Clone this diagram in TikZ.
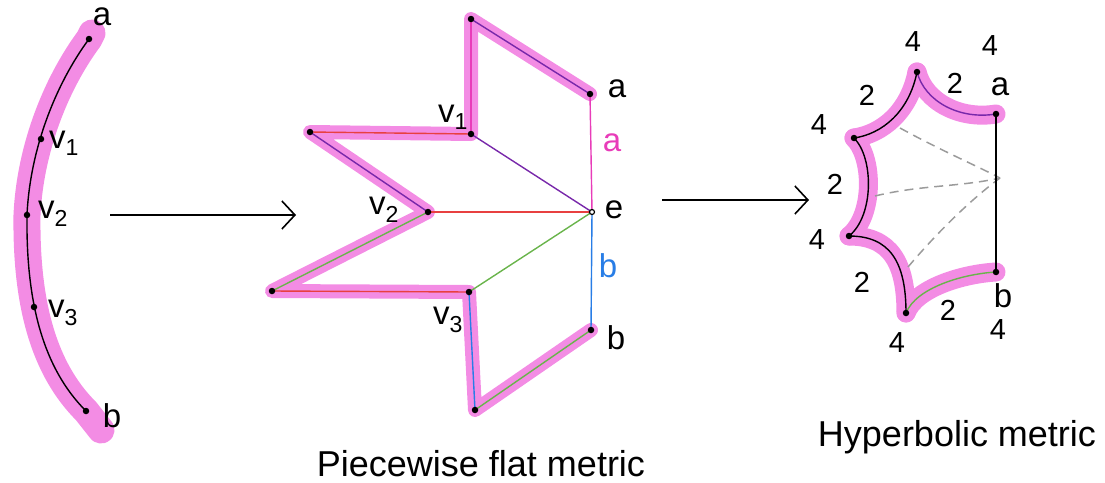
\documentclass[tikz,border=0pt]{standalone}
\usepackage{fontspec}
\setmainfont{Liberation Sans}
\usetikzlibrary{arrows.meta}
\definecolor{hlpink}{RGB}{243,140,228}
\definecolor{cred}{RGB}{232,64,64}
\definecolor{cpurple}{RGB}{120,40,170}
\definecolor{cgreen}{RGB}{105,180,75}
\definecolor{cblue}{RGB}{40,125,230}
\definecolor{cmag}{RGB}{232,60,185}
\definecolor{cgray}{RGB}{155,155,155}
\begin{document}
\begin{tikzpicture}[x=1pt,y=-1pt,
  hl/.style={draw=hlpink, line width=14, line cap=round, line join=round},
  ink/.style={line width=1.4},
  lbl/.style={font=\fontsize{33}{33}\selectfont, inner sep=0},
  num/.style={font=\fontsize{29}{29}\selectfont, inner sep=0},
  capt/.style={font=\fontsize{36}{36}\selectfont, inner sep=0},
  pt/.style={circle, fill=black, inner sep=0, minimum size=6.5},
  mapto/.style={line width=1.6, -{Straight Barb[length=13, width=28, line width=1.6]}},
  dsh/.style={draw=cgray, line width=1.5, dash pattern=on 9 off 6}]
\useasboundingbox (0,0) rectangle (1105,482);

% ---------------- left curve ----------------
\coordinate (la) at (89,39);
\coordinate (lv1) at (41,139);
\coordinate (lv2) at (27,215);
\coordinate (lv3) at (34,307);
\coordinate (lb) at (86,411);
\coordinate (lpa) at (92,33);
\coordinate (lpb) at (101,430);
\draw[hl, line width=27] (lpa) -- (la) .. controls (55,85) and (30,150) .. (lv2) .. controls (26,295) and (40,365) .. (lb) -- (lpb);
\draw[ink] (la) .. controls (55,85) and (30,150) .. (lv2) .. controls (26,295) and (40,365) .. (lb);
\foreach \p in {la,lv1,lv2,lv3,lb} \node[pt] at (\p) {};
\node[lbl] (tla) at (102,17) {a};
\node[lbl] (tlv1) at (64,143) {v\textsubscript{1}};
\node[lbl] (tlv2) at (53,214) {v\textsubscript{2}};
\node[lbl] (tlv3) at (63,313) {v\textsubscript{3}};
\node[lbl] (tlb) at (112,416) {b};

% arrow 1
\coordinate (ar1s) at (110,215);
\coordinate (ar1e) at (296,215);
\draw[mapto] (ar1s) -- (ar1e);

% ---------------- middle figure ----------------
\coordinate (mT) at (471,19);
\coordinate (mA) at (590,94);
\coordinate (mV1) at (471,134);
\coordinate (mL1) at (310,132);
\coordinate (mV2) at (428,212);
\coordinate (mE) at (592,212);
\coordinate (mL2) at (272,291);
\coordinate (mV3) at (469,292);
\coordinate (mBt) at (475,410);
\coordinate (mB) at (591,330);
\draw[hl] (mA) -- (mT) -- (mV1) -- (mL1) -- (mV2) -- (mL2) -- (mV3) -- (mBt) -- (mB);
\draw[ink, cpurple] (mT) -- (mA);
\draw[ink, cmag] (mT) -- (mV1);
\draw[ink, cred] (mV1) -- (mL1);
\draw[ink, cpurple] (mL1) -- (mV2);
\draw[ink, cgreen] (mV2) -- (mL2);
\draw[ink, cred] (mL2) -- (mV3);
\draw[ink, cblue] (mV3) -- (mBt);
\draw[ink, cgreen] (mBt) -- (mB);
\draw[ink, cpurple] (mV1) -- (mE);
\draw[ink, cred] (mV2) -- (mE);
\draw[ink, cgreen] (mV3) -- (mE);
\draw[ink, cmag] (mA) -- (mE);
\draw[ink, cblue] (mE) -- (mB);
\foreach \p in {mT,mA,mV1,mL1,mV2,mL2,mV3,mBt,mB} \node[pt] at (\p) {};
\node[circle, draw=black, fill=white, inner sep=0, minimum size=5, line width=1.2] at (mE) {};
\node[lbl] (tma) at (617,89) {a};
\node[lbl] (tmv1) at (453,117) {v\textsubscript{1}};
\node[lbl, text=cmag] (tmaa) at (612,143) {a};
\node[lbl] (tme) at (614,210) {e};
\node[lbl] (tmv2) at (384,210) {v\textsubscript{2}};
\node[lbl, text=cblue] (tmbb) at (608,266) {b};
\node[lbl] (tmv3) at (448,320) {v\textsubscript{3}};
\node[lbl] (tmb) at (616,338) {b};
\node[capt, anchor=base] (cap1) at (481,476) {Piecewise flat metric};

% arrow 2
\coordinate (ar2s) at (662,200);
\coordinate (ar2e) at (809,200);
\draw[mapto] (ar2s) -- (ar2e);

% ---------------- right figure ----------------
\coordinate (hT) at (917,72);
\coordinate (hA) at (996,114);
\coordinate (hLT) at (854,138);
\coordinate (hLB) at (849,236);
\coordinate (hB) at (906,313);
\coordinate (hBb) at (996,272);
\coordinate (hC) at (1000,178);
\begin{scope}[hl, line width=19]
\draw (hT) .. controls (925,102) and (960,120) .. (hA);
\draw (hT) .. controls (909,112) and (882,134) .. (hLT);
\draw (hLT) .. controls (874,158) and (874,216) .. (hLB);
\draw (hLB) .. controls (890,236) and (906,262) .. (hB);
\draw (hB) .. controls (916,288) and (962,274) .. (hBb);
\end{scope}
\draw[dsh] (900,128) .. controls (940,150) and (975,165) .. (hC);
\draw[dsh] (875,196) .. controls (920,185) and (960,187) .. (hC);
\draw[dsh] (908,267) .. controls (935,235) and (970,200) .. (hC);
\draw[ink, cpurple] (hT) .. controls (925,102) and (960,120) .. (hA);
\draw[ink] (hT) .. controls (909,112) and (882,134) .. (hLT);
\draw[ink] (hLT) .. controls (874,158) and (874,216) .. (hLB);
\draw[ink] (hLB) .. controls (890,236) and (906,262) .. (hB);
\draw[ink, cgreen] (hB) .. controls (916,288) and (962,274) .. (hBb);
\draw[ink] (hA) -- (hBb);
\foreach \p in {hT,hA,hLT,hLB,hB,hBb} \node[pt] at (\p) {};
\node[num] (n1) at (913,42) {4};
\node[num] (n2) at (990,46) {4};
\node[num] (n3) at (867,95) {2};
\node[num] (n4) at (955,83) {2};
\node[lbl] (tha) at (1000,87) {a};
\node[num] (n5) at (819,125) {4};
\node[num] (n6) at (835,184) {2};
\node[num] (n7) at (817,240) {4};
\node[num] (n8) at (862,282) {2};
\node[num] (n9) at (948,310) {2};
\node[num] (n10) at (897,343) {4};
\node[lbl] (thb) at (1003,296) {b};
\node[num] (n11) at (998,330) {4};
\node[capt, anchor=base] (cap2) at (957,446) {Hyperbolic metric};
\end{tikzpicture}
\end{document}
